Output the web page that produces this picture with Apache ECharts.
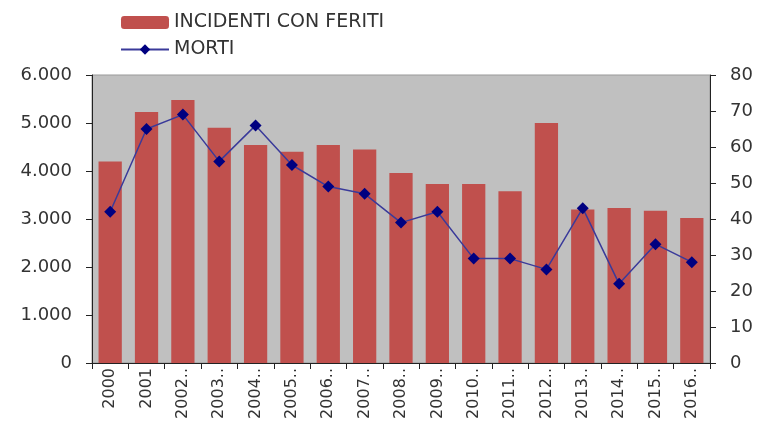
<!DOCTYPE html>
<html>
<head>
<meta charset="utf-8">
<script src="https://cdn.jsdelivr.net/npm/echarts@6/dist/echarts.min.js"></script>
<style>
  html, body { margin: 0; padding: 0; background: #fff; }
  #main { width: 758px; height: 425px; }
</style>
</head>
<body>
<div id="main"></div>
<script>
// categorie e valori
var anni = ['2000', '2001', '2002..', '2003..', '2004..', '2005..', '2006..', '2007..', '2008..',
    '2009..', '2010..', '2011..', '2012..', '2013..', '2014..', '2015..', '2016..'];
var incidenti = [4200, 5230, 5480, 4900, 4540, 4400, 4540, 4450, 3960,
    3730, 3730, 3580, 5000, 3200, 3230, 3170, 3020];
var morti = [42, 65, 69, 56, 66, 55, 49, 47, 39, 42, 29, 29, 26, 43, 22, 33, 28];

var sxTicks = ['0', '1.000', '2.000', '3.000', '4.000', '5.000', '6.000'];

var myChart = echarts.init(document.getElementById('main'));

var option = {
    backgroundColor: '#fff',
    animation: false,
    textStyle: { fontFamily: 'DejaVu Sans, Arial, sans-serif' },
    legend: {
        orient: 'vertical',
        left: 115,
        top: 8,
        itemGap: 8,
        itemWidth: 48,
        itemHeight: 13,
        textStyle: { fontSize: 19, color: '#333' },
        data: ['INCIDENTI CON FERITI', 'MORTI']
    },
    grid: {
        left: 92,
        right: 48,
        top: 75,
        bottom: 62,
        outerBoundsMode: 'none',
        show: true,
        backgroundColor: '#c0c0c0',
        borderColor: '#999',
        borderWidth: 1
    },
    xAxis: {
        type: 'category',
        data: anni,
        axisLine: { lineStyle: { color: '#222' } },
        axisTick: { show: true, length: 6, lineStyle: { color: '#222' } },
        axisLabel: { rotate: 90, fontSize: 16, color: '#333', margin: 5 }
    },
    yAxis: [
        {
            type: 'value',
            min: 0,
            max: 6000,
            interval: 1000,
            splitLine: { show: false },
            axisLine: { show: true, lineStyle: { color: '#222' } },
            axisTick: { show: true, length: 6, lineStyle: { color: '#222' } },
            axisLabel: {
                fontSize: 18, color: '#333', margin: 20,
                formatter: function (v) { return sxTicks[v / 1000]; }
            }
        },
        {
            type: 'value',
            min: 0,
            max: 80,
            interval: 10,
            splitLine: { show: false },
            axisLine: { show: true, lineStyle: { color: '#222' } },
            axisTick: { show: true, length: 6, lineStyle: { color: '#222' } },
            axisLabel: { fontSize: 18, color: '#333', margin: 20 }
        }
    ],
    series: [
        {
            name: 'INCIDENTI CON FERITI',
            type: 'bar',
            barWidth: '64%',
            itemStyle: { color: '#c0504d' },
            data: incidenti
        },
        {
            name: 'MORTI',
            type: 'line',
            yAxisIndex: 1,
            symbol: 'diamond',
            symbolSize: 12,
            lineStyle: { color: '#3a3a9a', width: 1.5 },
            itemStyle: { color: '#000080' },
            data: morti
        }
    ]
};

myChart.setOption(option);
</script>
</body>
</html>
